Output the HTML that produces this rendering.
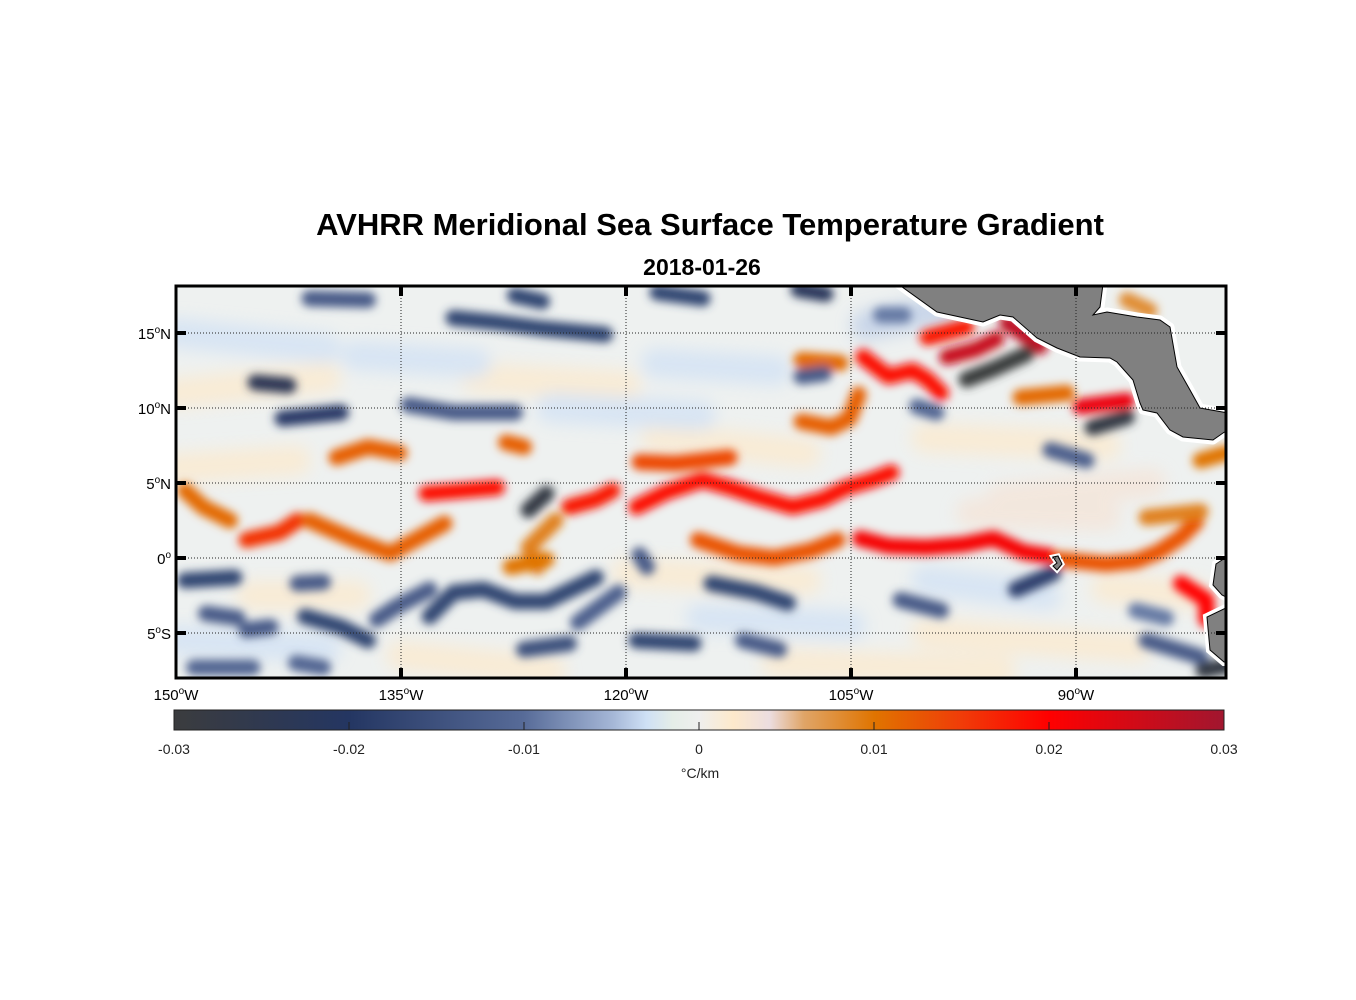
<!DOCTYPE html>
<html><head><meta charset="utf-8"><style>
html,body{margin:0;padding:0;background:#fff;}
svg{display:block;font-family:"Liberation Sans",Arial,sans-serif;}
</style></head><body>
<svg id="fig" width="1356" height="1000" viewBox="0 0 1356 1000">
<defs>
<clipPath id="mapclip"><rect x="176" y="286" width="1050" height="392"/></clipPath>
<filter id="blurS" x="-20%" y="-50%" width="140%" height="200%"><feGaussianBlur stdDeviation="4.5"/></filter>
<filter id="blurF" x="-20%" y="-50%" width="140%" height="200%"><feGaussianBlur stdDeviation="8"/></filter>
<linearGradient id="cbgrad" x1="0" x2="1" y1="0" y2="0">
<stop offset="0" stop-color="#3b3c3e"/><stop offset="0.167" stop-color="#243662"/>
<stop offset="0.333" stop-color="#576b98"/><stop offset="0.417" stop-color="#a4b6d6"/>
<stop offset="0.45" stop-color="#cfe0f5"/><stop offset="0.475" stop-color="#e5eee8"/>
<stop offset="0.5" stop-color="#efefee"/><stop offset="0.533" stop-color="#fde9cb"/>
<stop offset="0.567" stop-color="#ecdde0"/><stop offset="0.6" stop-color="#e0a567"/>
<stop offset="0.667" stop-color="#e07400"/><stop offset="0.75" stop-color="#f03c08"/>
<stop offset="0.833" stop-color="#ff0000"/><stop offset="1" stop-color="#a1162f"/>
</linearGradient>
</defs>
<text x="710" y="235" text-anchor="middle" font-size="31" font-weight="bold">AVHRR Meridional Sea Surface Temperature Gradient</text>
<text x="702" y="275" text-anchor="middle" font-size="23" font-weight="bold">2018-01-26</text>
<g clip-path="url(#mapclip)">
<rect x="176" y="286" width="1050" height="392" fill="#eef1f0"/>
<g id="faint" filter="url(#blurF)" opacity="0.7"></g>
<g id="strong" filter="url(#blurS)"></g>
<g>
<path d="M898,284 L937,312 L983,322 L1000,315 L1013,317 L1037,338 L1057,348 L1080,357 L1110,358 L1117,362 L1133,380 L1140,403 L1143,410 L1157,413 L1170,430 L1183,437 L1213,440 L1223,433 L1228,430 L1228,413 L1200,408 L1190,390 L1177,367 L1170,327 L1160,320 L1137,317 L1107,312 L1093,315 L1100,307 L1103,284 Z" fill="#808080" stroke="#fff" stroke-width="9" stroke-linejoin="round"/>
<path d="M898,284 L937,312 L983,322 L1000,315 L1013,317 L1037,338 L1057,348 L1080,357 L1110,358 L1117,362 L1133,380 L1140,403 L1143,410 L1157,413 L1170,430 L1183,437 L1213,440 L1223,433 L1228,430 L1228,413 L1200,408 L1190,390 L1177,367 L1170,327 L1160,320 L1137,317 L1107,312 L1093,315 L1100,307 L1103,284 Z" fill="#808080" stroke="#000" stroke-width="1"/>
<path d="M1228,556 L1216,564 L1213,585 L1222,595 L1228,598 Z M1228,607 L1207,617 L1210,650 L1224,662 L1228,662 Z" fill="#808080" stroke="#fff" stroke-width="8"/>
<path d="M1228,556 L1216,564 L1213,585 L1222,595 L1228,598 Z M1228,607 L1207,617 L1210,650 L1224,662 L1228,662 Z" fill="#808080" stroke="#000" stroke-width="1"/>
<path d="M1053,557 L1058,556 L1062,564 L1057,570 L1053,566 L1057,563 Z" fill="#808080" stroke="#fff" stroke-width="5"/>
<path d="M1053,557 L1058,556 L1062,564 L1057,570 L1053,566 L1057,563 Z" fill="#808080" stroke="#000" stroke-width="1"/>
</g>
<g id="grid" stroke="#222" stroke-width="1" stroke-dasharray="1,2"></g>
</g>
<rect x="176" y="286" width="1050" height="392" fill="none" stroke="#000" stroke-width="3"/>
<g id="ticks"></g>
<g id="ylabels" font-size="15" text-anchor="end"></g>
<g id="xlabels" font-size="15" text-anchor="middle"></g>
<g>
<rect x="174" y="710" width="1050" height="20" fill="url(#cbgrad)" stroke="#222" stroke-width="1"/>
<g id="cbticks"></g>
<text x="700" y="778" font-size="14" text-anchor="middle" fill="#222">°C/km</text>
</g>
</svg>
<script>
const NS="http://www.w3.org/2000/svg";
const latTicks=[-5,0,5,10,15];
const lonTicks=[-150,-135,-120,-105,-90];
const cbTicks=[-0.03,-0.02,-0.01,0,0.01,0.02,0.03];
const cbLabels=["-0.03","-0.02","-0.01","0","0.01","0.02","0.03"];
const strongPaths=[
[-149.4,4.5,-148.2,3.4,-146.4,2.5],
[-145.3,1.2,-143.1,1.7,-141.9,2.5],
[-139.3,6.7,-137.2,7.4,-135.1,7.0],
[-141.1,2.5,-138.1,1.2,-135.7,0.3,-132.1,2.3],
[-133.3,4.3,-130.9,4.5,-128.6,4.7],
[-123.8,3.4,-122,3.9,-120.9,4.5],
[-124.7,2.5,-126.5,0.7,-125.9,-0.6],
[-127.7,-0.6,-125.3,-0.1],
[-119.3,3.4,-117.3,4.4,-114.9,5.2,-113.1,4.7,-111.3,4.1,-108.9,3.4,-106.9,3.9,-105.3,4.7,-103.6,5.2,-102.3,5.7],
[-119.1,6.4,-116.7,6.3,-113.1,6.7],
[-115.2,1.2,-112.5,0.3,-110.1,0,-107.7,0.5,-105.9,1.2],
[-104.4,1.3,-102.5,0.8,-100,0.7,-97.5,0.9,-95.5,1.3,-93.5,0.4,-91.7,0.1],
[-91,-0.1,-88,-0.4,-86,-0.2,-84.5,0.4,-83,1.4,-82,2.4],
[-85.3,2.7,-81.7,3.1],
[-83,-1.7,-81.3,-2.8,-81.3,-4.1],
[-108.3,9.1,-106.3,8.7,-105.1,9.3,-104.5,10.9],
[-108.3,13.2,-105.7,13.0],
[-104.2,13.4,-102.5,12.1,-100.9,12.5,-99.9,11.9,-99.0,11.0],
[-99.9,14.7,-97.3,15.4],
[-98.6,13.4,-96.7,13.9,-95.3,14.6],
[-94.6,15.7,-92.4,14.1],
[-93.7,10.7,-90.6,11.0],
[-89.7,10.1,-86.6,10.5],
[-81.7,6.5,-80,7],
[-86.6,17.2,-85.1,16.5],
[-128,7.7,-126.8,7.4],
[-97.3,11.9,-95.5,12.6,-93.3,13.6],
[-88.9,8.7,-86.6,9.4],
[-91.7,7.2,-89.3,6.5],
[-94,-2.1,-91.5,-1.0],
[-85.3,-5.5,-81.7,-6.6],
[-81.5,-7.5,-80,-7.2],
[-126.5,3.2,-125.3,4.3],
[-149.4,-1.5,-146.1,-1.3],
[-141.9,-1.7,-140.2,-1.6],
[-148,-3.7,-145.9,-4.0],
[-145.3,-4.8,-143.7,-4.6],
[-141.4,-3.9,-139,-4.6,-137.2,-5.5],
[-136.6,-4.1,-135.4,-3.3,-133.1,-2.1],
[-133.1,-3.9,-131.5,-2.3,-129.5,-2.1,-127.4,-2.9,-125.3,-2.9,-122,-1.3],
[-123.2,-4.3,-120.5,-2.3],
[-126.8,-6.1,-123.8,-5.7],
[-148.8,-7.3,-144.9,-7.3],
[-142,-7,-140.2,-7.3],
[-119.3,-5.5,-115.5,-5.7],
[-112.2,-5.5,-109.8,-6.1],
[-114.3,-1.7,-111.3,-2.3,-109.2,-3.0],
[-141.1,17.3,-137.2,17.2],
[-131.5,16,-128.6,15.7,-125.6,15.3,-121.4,14.9],
[-127.4,17.5,-125.6,17.1],
[-117.9,17.7,-114.9,17.3],
[-108.5,17.9,-106.7,17.6],
[-144.7,11.7,-142.5,11.5],
[-142.9,9.3,-139,9.7],
[-134.5,10.2,-131.5,9.7,-127.4,9.7],
[-103,16.2,-101.5,16.2],
[-101.7,-2.8,-99,-3.5],
[-108.3,12.1,-106.8,12.3],
[-100.6,10.1,-99.3,9.7],
[-119.1,0.2,-118.6,-0.6],
[-86,-3.5,-84,-4]
];
const strongValues=[0.011,0.016,0.012,0.012,0.019,0.018,0.009,0.01,0.019,0.014,0.013,0.021,0.013,0.009,0.02,0.012,0.011,0.019,0.018,0.026,0.027,0.011,0.022,0.01,0.008,0.012,
-0.03,-0.028,-0.012,-0.018,-0.013,-0.028,-0.028,-0.017,-0.013,-0.013,-0.013,-0.017,-0.013,-0.017,-0.012,-0.015,-0.011,-0.011,-0.017,-0.013,-0.017,
-0.013,-0.017,-0.017,-0.017,-0.022,-0.024,-0.019,-0.013,-0.009,-0.013,-0.013,-0.011,-0.013,-0.009];
const faintPaths=[
[-150,11,-140,12],[-130,12,-120,11.5],[-118,8,-108,7],[-100,8,-88,7.5],[-95,4,-85,5],
[-120,-1,-108,-1.5],[-100,-5,-86,-6],[-135,-6.5,-125,-7.5],[-110,-7,-95,-7.5],[-145,-2.5,-138,-2.5],
[-97,3,-88,2.8],[-88,-2,-82,-2.5],[-150,6,-142,6.5],
[-150,15,-140,14],[-118,13,-110,12.5],[-138,13.5,-130,13],[-115,-4,-105,-4.5],[-150,-5.5,-140,-6],
[-104,15.5,-97,17],[-125,10,-115,9.5],[-100,-1.5,-92,-2.5]
];
const faintValues=[0.002,0.002,0.002,0.002,0.003,0.002,0.002,0.002,0.002,0.002,0.003,0.002,0.002,
-0.003,-0.003,-0.003,-0.003,-0.003,-0.004,-0.003,-0.003];

const X=lon=>176+(lon+150)*15;
const Y=lat=>558-lat*15;
const CX=v=>174+(v+0.03)/0.06*1050;
const cmapV=[-0.03,-0.02,-0.01,-0.005,-0.003,-0.0015,0,0.002,0.004,0.006,0.01,0.015,0.02,0.03];
const cmapC=["#3b3c3e","#243662","#576b98","#a4b6d6","#cfe0f5","#e5eee8","#efefee","#fde9cb","#ecdde0","#e0a567","#e07400","#f03c08","#ff0000","#a1162f"];
function hex(h){return [1,3,5].map(i=>parseInt(h.substr(i,2),16));}
function cmap(v){
  v=Math.max(-0.03,Math.min(0.03,v));
  for(let i=0;i<cmapV.length-1;i++){
    if(v<=cmapV[i+1]){const t=(v-cmapV[i])/(cmapV[i+1]-cmapV[i]);const a=hex(cmapC[i]),b=hex(cmapC[i+1]);
      return "rgb("+a.map((c,k)=>Math.round(c+(b[k]-c)*t)).join(",")+")";}
  }
  return cmapC[cmapC.length-1];
}
function pathD(p){let d="";for(let i=0;i<p.length;i+=2){d+=(i?"L":"M")+X(p[i]).toFixed(1)+","+Y(p[i+1]).toFixed(1);}return d;}
function draw(gid,paths,vals,w){
  const g=document.getElementById(gid);
  paths.forEach((p,i)=>{
    const el=document.createElementNS(NS,"path");
    el.setAttribute("d",pathD(p));
    el.setAttribute("fill","none");
    el.setAttribute("stroke",cmap(vals[i]));
    el.setAttribute("stroke-width",w);
    el.setAttribute("stroke-linecap","round");
    el.setAttribute("stroke-linejoin","round");
    
    
    g.appendChild(el);
  });
}
draw("faint",faintPaths,faintValues,30);
draw("strong",strongPaths,strongValues,16);

const grid=document.getElementById("grid"),ticks=document.getElementById("ticks");
function line(g,x1,y1,x2,y2,extra){const l=document.createElementNS(NS,"line");l.setAttribute("x1",x1);l.setAttribute("y1",y1);l.setAttribute("x2",x2);l.setAttribute("y2",y2);if(extra)for(const k in extra)l.setAttribute(k,extra[k]);g.appendChild(l);return l;}
latTicks.forEach(lat=>{
  const l=line(grid,176,Y(lat),1226,Y(lat));
  
  
  line(ticks,176,Y(lat),186,Y(lat),{stroke:"#000","stroke-width":4});
  line(ticks,1216,Y(lat),1226,Y(lat),{stroke:"#000","stroke-width":4});
  const t=document.createElementNS(NS,"text");
  t.setAttribute("x",171);t.setAttribute("y",Y(lat)+6);
  const name=lat===0?"":(lat>0?"N":"S");
  t.innerHTML=Math.abs(lat)+'<tspan font-size="10" dy="-6">o</tspan><tspan dy="6">'+name+'</tspan>';
  
  
  document.getElementById("ylabels").appendChild(t);
});
lonTicks.forEach(lon=>{
  if(lon>-150){
    const l=line(grid,X(lon),286,X(lon),678);
    
    
    line(ticks,X(lon),286,X(lon),296,{stroke:"#000","stroke-width":4});
    line(ticks,X(lon),668,X(lon),678,{stroke:"#000","stroke-width":4});
  }
  const t=document.createElementNS(NS,"text");
  t.setAttribute("x",X(lon));t.setAttribute("y",700);
  t.innerHTML=Math.abs(lon)+'<tspan font-size="10" dy="-6">o</tspan><tspan dy="6">W</tspan>';
  
  
  document.getElementById("xlabels").appendChild(t);
});
const cbt=document.getElementById("cbticks");
cbTicks.forEach((v,i)=>{
  if(i>0&&i<cbTicks.length-1){const l=line(cbt,CX(v),722,CX(v),730,{stroke:"#222","stroke-width":1});
    
    }
  const t=document.createElementNS(NS,"text");
  t.setAttribute("x",CX(v));t.setAttribute("y",754);t.setAttribute("font-size","14");t.setAttribute("text-anchor","middle");t.setAttribute("fill","#222");
  t.textContent=cbLabels[i];
  
  
  cbt.appendChild(t);
});
</script>
</body></html>
